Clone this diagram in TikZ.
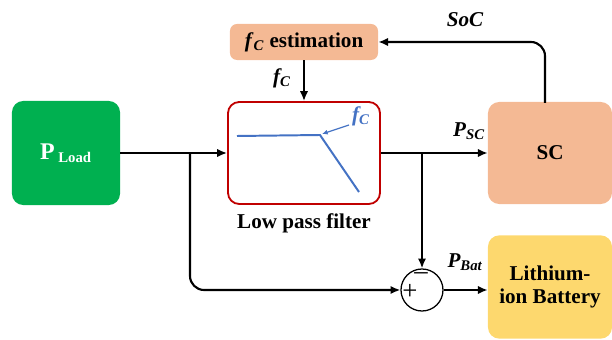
\documentclass[tikz,border=0pt]{standalone}
\usepackage{fontspec}
\setmainfont{Liberation Serif}
\usetikzlibrary{positioning,arrows.meta}
\definecolor{loadgreen}{HTML}{00B050}
\definecolor{lpfred}{HTML}{C00000}
\definecolor{scpeach}{HTML}{F4B994}
\definecolor{batyellow}{HTML}{FDD86E}
\definecolor{cutblue}{HTML}{4472C4}

\begin{document}
\begin{tikzpicture}[x=0.025cm, y=-0.025cm,
  block/.style={rounded corners=8pt, align=center, inner sep=0pt,
               font=\fontsize{15}{17}\selectfont\bfseries},
  filt/.style={block, draw=lpfred, line width=1.3pt, fill=white},
  sumnode/.style={circle, draw, line width=0.9pt, minimum size=1.05cm,
               inner sep=0pt},
  sign/.style={font=\fontsize{19}{19}\selectfont, inner sep=0pt},
  flow/.style={line width=1.5pt, -{Latex[length=7pt,width=6pt]}, black},
  lbl/.style={font=\fontsize{15}{17}\selectfont\bfseries\itshape,
               inner sep=1pt},
  cut/.style={line width=1.4pt, cutblue},
]
\useasboundingbox (0,0) rectangle (612,340);

% Source, filter and the two storage blocks.
\node[block, fill=loadgreen, text=white, minimum width=2.7cm,
      minimum height=2.6cm] (load) at (66,153)
  {{\fontsize{17}{17}\selectfont P}\,\textsubscript{Load}};
\node[filt, minimum width=3.8cm, minimum height=2.55cm] (lpf) at (304,153) {};
\node[block, fill=scpeach, minimum width=3.7cm, minimum height=0.9cm,
      rounded corners=5pt] (est) at (304,42)
  {\textit{f}\textsubscript{\textit{C}} estimation};
\node[block, fill=scpeach, minimum width=3.1cm, minimum height=2.55cm]
  (sc) at (550,153) {SC};
\node[block, fill=batyellow, minimum width=3.1cm, minimum height=2.58cm]
  (bat) at (550,287) {Lithium-\\ion Battery};
\node[sumnode] (sum) at (422,290) {};
\node[sign] (minus) at (421,276) {–};
\node[sign] (plus) at (410,292) {+};
\node[font=\fontsize{15}{17}\selectfont\bfseries, below=3pt of lpf]
  (lpfname) {Low pass filter};

% Cut-off characteristic drawn inside the filter.
\draw[cut] (237,136) -- (320,135) -- (359,192);
\draw[cutblue, line width=0.8pt, -{Latex[length=4pt,width=3.5pt]}]
  (349,125) -- (322,134);
\node[lbl, text=cutblue] (fcin) at (361,116)
  {\textit{f}\textsubscript{\textit{C}}};

% Power split.
\coordinate (split1) at (190,153);
\coordinate (split2) at (422,153);
\draw[flow] (load.east) -- (lpf.west);
\draw[flow, rounded corners=10pt] (split1) |- (sum.west);
\draw[flow] (lpf.east) -- (sc.west);
\draw[flow] (split2) -- (sum.north);
\draw[flow] (sum.east) -- (sum.east -| bat.west);

% Feedback from the SC to the estimator.
\coordinate (sctop) at (545,103);
\draw[flow, rounded corners=10pt] (sctop) |- (est.east);
\draw[flow] (est.south) -- (lpf.north);

% Signal labels.
\node[lbl] (fcl) at (282,78) {\textit{f}\textsubscript{\textit{C}}};
\node[lbl] (soc) at (465,20) {SoC};
\node[lbl] (psc) at (469,131) {P\textsubscript{SC}};
\node[lbl] (pbat) at (465,262) {P\textsubscript{Bat}};

\end{tikzpicture}
\end{document}
